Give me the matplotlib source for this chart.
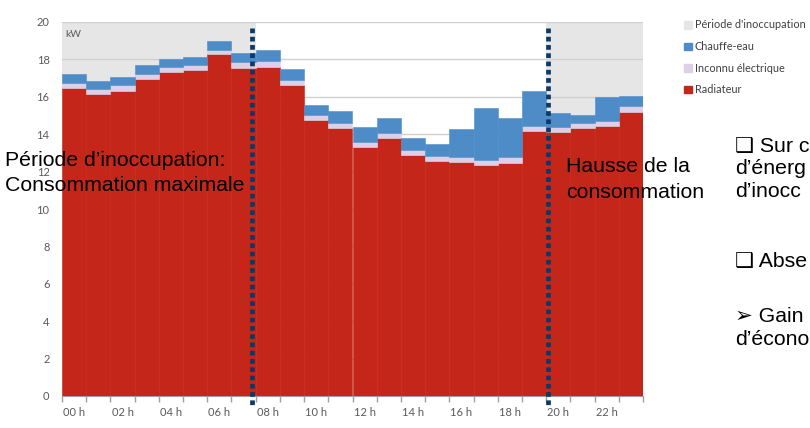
import matplotlib
matplotlib.use('Agg')
import matplotlib.pyplot as plt
from matplotlib.patches import Patch
import numpy as np

# hourly consumption (kW), stacked
hours = list(range(24))
radiateur = [16.49, 16.13, 16.33, 16.97, 17.34, 17.45, 18.27, 17.56, 17.59, 16.63, 14.74, 14.33,
             13.32, 13.80, 12.89, 12.55, 12.50, 12.34, 12.46, 14.15, 14.12, 14.33, 14.44, 15.17]
inconnu = [0.25, 0.27, 0.28, 0.27, 0.27, 0.27, 0.23, 0.28, 0.30, 0.27, 0.29, 0.29,
           0.26, 0.28, 0.28, 0.30, 0.28, 0.26, 0.30, 0.27, 0.25, 0.27, 0.27, 0.32]
chauffe_eau = [0.48, 0.44, 0.45, 0.44, 0.43, 0.43, 0.47, 0.50, 0.63, 0.59, 0.51, 0.60,
               0.82, 0.77, 0.64, 0.63, 1.50, 2.78, 2.11, 1.87, 0.76, 0.41, 1.30, 0.57]
tick_labels = ['00 h', '02 h', '04 h', '06 h', '08 h', '10 h', '12 h', '14 h', '16 h', '18 h', '20 h', '22 h']
inoccupation = [(0, 8), (20, 24)]
markers_x = [7.85, 20.08]

c_red = '#C4271A'
c_lav = '#DDD0E6'
c_blue = '#4E8CC8'
c_gray = '#E6E6E6'
c_txt = '#595959'

plt.rcParams['font.family'] = ['Lato', 'DejaVu Sans']

fig = plt.figure(figsize=(8.1, 4.28), dpi=100)
ax = fig.add_axes([62/810, 1-396/428, (643-62)/810, (396-22)/428])

for a, b in inoccupation:
    ax.axvspan(a, b, color=c_gray, lw=0, zorder=0)

x = np.array(hours) + 0.5
rad = np.array(radiateur)
inc = np.array(inconnu)
ce = np.array(chauffe_eau)
ax.bar(x, rad, width=1.0, color=c_red, ec=c_red, lw=0.4, zorder=3)
ax.bar(x, inc, bottom=rad, width=1.0, color=c_lav, ec=c_lav, lw=0.4, zorder=3)
ax.bar(x, ce, bottom=rad + inc, width=1.0, color=c_blue, ec=c_blue, lw=0.4, zorder=3)

ax.set_xlim(0, 24)
ax.set_ylim(0, 20)
ax.set_yticks(range(0, 21, 2))
ax.yaxis.grid(True, color='#D0D0D0', lw=1, zorder=1)
ax.set_axisbelow(True)
ax.tick_params(axis='y', length=0, pad=9, labelsize=8, labelcolor=c_txt)

ax.set_xticks(range(0, 25))
ax.set_xticklabels([])
ax.set_xticks(np.arange(0.5, 24, 2), minor=True)
ax.set_xticklabels(tick_labels, minor=True)
ax.tick_params(axis='x', which='major', length=4, color='#A0A0A0', width=1)
ax.tick_params(axis='x', which='minor', length=0, pad=8, labelsize=8, labelcolor=c_txt)

for s in ['top', 'right', 'left']:
    ax.spines[s].set_visible(False)
ax.spines['bottom'].set_color('#A0A0A0')

ax.text(0.15, 19.35, 'kW', fontsize=7.5, color=c_txt, va='center', ha='left', zorder=4)

for xm in markers_x:
    ax.plot([xm, xm], [19.68, -0.48], color='#0B3A66', lw=3.4,
            linestyle=(0, (1, 0.75)), dash_capstyle='butt', clip_on=False, zorder=5)

handles = [Patch(color=c_gray), Patch(color=c_blue), Patch(color=c_lav), Patch(color=c_red)]
labels = ["Période d'inoccupation", 'Chauffe-eau', 'Inconnu électrique', 'Radiateur']
fig.legend(handles, labels, loc='upper left', bbox_to_anchor=(684/810, 1-19.5/428),
           frameon=False, fontsize=7.8, handlelength=0.7, handleheight=0.7,
           handletextpad=0.3, labelspacing=0.98, borderaxespad=0, borderpad=0,
           labelcolor='#404040')

big = dict(fontsize=15.3, color='black', family=['Liberation Sans', 'DejaVu Sans'], va='baseline')
fig.text(5/810, 1-165.7/428, 'Période d’inoccupation:', **big)
fig.text(5/810, 1-190.7/428, 'Consommation maximale', **big)
fig.text(566/810, 1-171.7/428, 'Hausse de la', **big)
fig.text(566/810, 1-198.3/428, 'consommation', **big)
fig.text(735/810, 1-151.7/428, '❑ Sur c', **big)
fig.text(735/810, 1-174.5/428, 'd’énerg', **big)
fig.text(735/810, 1-197.3/428, 'd’inocc', **big)
fig.text(735/810, 1-266.7/428, '❑ Abse', **big)
fig.text(735/810, 1-321.7/428, '➢ Gain', **big)
fig.text(735/810, 1-345/428, 'd’écono', **big)

fig.savefig('out.png', dpi=100)
